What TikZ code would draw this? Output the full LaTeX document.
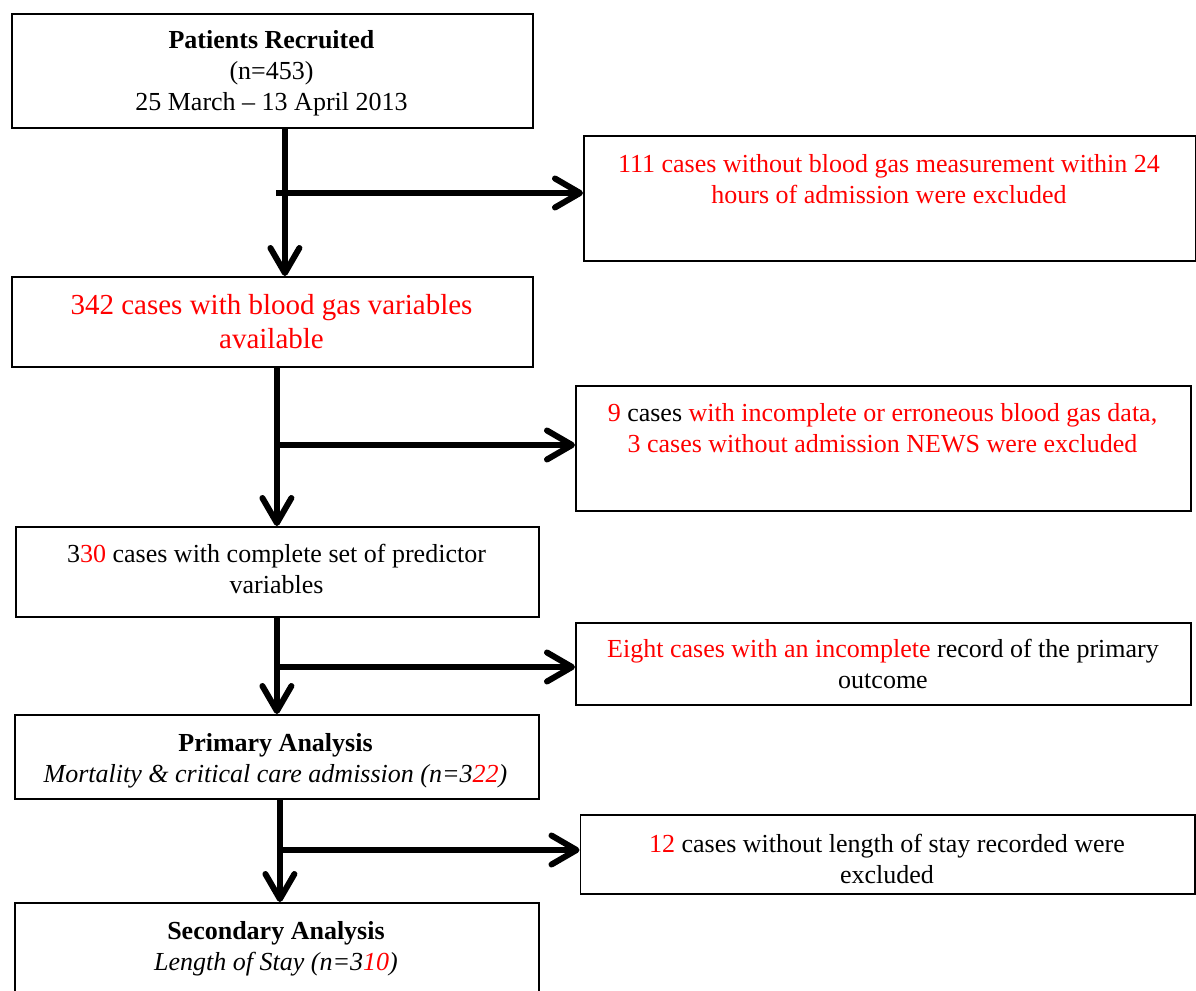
\documentclass[tikz,border=0pt]{standalone}
\usepackage{fontspec}
\setmainfont{Liberation Serif}
\usetikzlibrary{arrows.meta}
\begin{document}
\begin{tikzpicture}[x=1pt,y=-1pt,
  box/.style={draw=black, line width=1.8pt, inner sep=0pt, anchor=north west},
  txt/.style={align=center, inner sep=0pt, font=\fontsize{26pt}{31pt}\selectfont},
  bigtxt/.style={align=center, inner sep=0pt, font=\fontsize{29pt}{34pt}\selectfont},
  flow/.style={line width=6pt, -{Straight Barb[length=25pt,width=29pt,round]}}]
\useasboundingbox (0,0) rectangle (1196,990);
\clip (0,0) rectangle (1196,990);
% main boxes
\node[box, minimum width=521pt, minimum height=114pt] (b1) at (11,13) {};
\node[box, minimum width=521pt, minimum height=90pt] (b2) at (11,276) {};
\node[box, minimum width=523pt, minimum height=90pt] (b3) at (15,526) {};
\node[box, minimum width=524pt, minimum height=84pt] (b4) at (14,714) {};
\node[box, minimum width=524pt, minimum height=108pt] (b5) at (14,902) {};
% exclusion boxes
\node[box, minimum width=611.5pt, minimum height=125pt] (e1) at (583,135) {};
\node[box, minimum width=615pt, minimum height=125pt] (e2) at (575,385) {};
\node[box, minimum width=615pt, minimum height=82pt] (e3) at (575,622) {};
\node[box, minimum width=614.5pt, minimum height=79pt] (e4) at (579.5,814) {};
% texts
\node[txt] (t1) at (271.5,73) {\textbf{Patients Recruited}\\(n=453)\\25 March -- 13 April 2013};
\node[txt, text=red] (te1) at (889,179) {111 cases without blood gas measurement within 24\\hours of admission were excluded};
\node[bigtxt, text=red] (t2) at (271.5,322) {342 cases with blood gas variables\\available};
\node[txt] (te2) at (882.5,428) {\textcolor{red}{9} cases \textcolor{red}{with incomplete or erroneous blood gas data,}\\\textcolor{red}{3 cases without admission NEWS were excluded}};
\node[txt] (t3) at (276.5,569) {3\textcolor{red}{30} cases with complete set of predictor\\variables};
\node[txt] (te3) at (883,664) {\textcolor{red}{Eight cases with an incomplete} record of the primary\\outcome};
\node[txt] (t4) at (275.5,760.5) {\textbf{Primary Analysis}\\\textit{Mortality \& critical care admission (n=3\textcolor{red}{22})}};
\node[txt] (te4) at (887,858.5) {\textcolor{red}{12} cases without length of stay recorded were\\excluded};
\node[txt] (t5) at (276,948.5) {\textbf{Secondary Analysis}\\\textit{Length of Stay (n=3\textcolor{red}{10})}};
% connectors
\coordinate (s1) at ([xshift=12.5pt]b1.south);
\coordinate (s2) at ([xshift=4.5pt]b2.south);
\coordinate (s3) at ([xshift=-0.5pt]b3.south);
\coordinate (s4) at ([xshift=3pt]b4.south);
\coordinate (j1) at (276,193);
\coordinate (j2) at (276,445);
\coordinate (j3) at (276,667);
\coordinate (j4) at (279,850);
\draw[flow] (s1) -- (s1 |- b2.north);
\draw[flow] (j1) -- (j1 -| e1.west);
\draw[flow] (s2) -- (s2 |- b3.north);
\draw[flow] (j2) -- (j2 -| e2.west);
\draw[flow] (s3) -- (s3 |- b4.north);
\draw[flow] (j3) -- (j3 -| e3.west);
\draw[flow] (s4) -- (s4 |- b5.north);
\draw[flow] (j4) -- (j4 -| e4.west);
\end{tikzpicture}
\end{document}
